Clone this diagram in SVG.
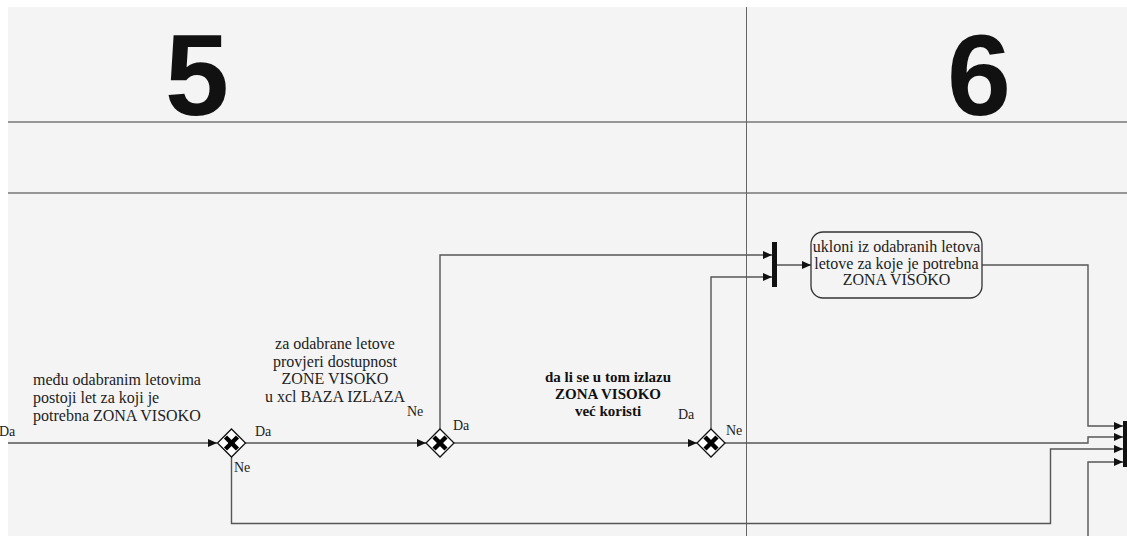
<svg xmlns="http://www.w3.org/2000/svg" width="1127" height="536" viewBox="0 0 1127 536">
<style>
.lane{stroke:#777;stroke-width:1.5;fill:none}
.vl{stroke:#666;stroke-width:1;fill:none}
.c{stroke:#555;stroke-width:1.4;fill:none}
.t{font-family:'Liberation Serif','Tinos','DejaVu Serif',serif;font-size:16px;fill:#222}
.tb{font-family:'Liberation Serif','Tinos','DejaVu Serif',serif;font-size:15px;font-weight:bold;fill:#111}
.lbl{font-family:'Liberation Serif','Tinos','DejaVu Serif',serif;font-size:14px;fill:#222}
.num{font-family:'Liberation Sans',Arial,sans-serif;font-size:115px;font-weight:bold;fill:#111}
.gw{fill:#fff;stroke:#111;stroke-width:1.3}
.gx{stroke:#000;stroke-width:4.5;stroke-linecap:butt}
.bar{fill:#111}
</style>
<defs>
<marker id="ah" viewBox="0 0 9 8" refX="9" refY="4" markerWidth="9" markerHeight="8" markerUnits="userSpaceOnUse" orient="auto">
<path d="M0,0 L9,4 L0,8 Z" fill="#111"/>
</marker>
<g id="gwshape">
<polygon class="gw" points="0,-14 14,0 0,14 -14,0"/>
<line class="gx" x1="-6" y1="-6" x2="6" y2="6"/>
<line class="gx" x1="6" y1="-6" x2="-6" y2="6"/>
</g>
</defs>
<rect x="0" y="0" width="1127" height="536" fill="#fff"/>
<rect x="8" y="7" width="1119" height="529" fill="#f4f4f4"/>
<g id="lanes">
<line class="lane" x1="8" y1="122" x2="1127" y2="122"/>
<line class="lane" x1="8" y1="193" x2="1127" y2="193"/>
<line class="vl" x1="746.5" y1="7" x2="746.5" y2="536"/>
<text class="num" x="197" y="115" text-anchor="middle">5</text>
<text class="num" x="979" y="115" text-anchor="middle">6</text>
</g>
<g id="connectors">
<path class="c" d="M8,443 H217" marker-end="url(#ah)"/>
<path class="c" d="M245,443 H426" marker-end="url(#ah)"/>
<path class="c" d="M231.5,457 V523.5 H1050.5 V449 H1123" marker-end="url(#ah)"/>
<path class="c" d="M440,429 V255 H772" marker-end="url(#ah)"/>
<path class="c" d="M454,443 H697" marker-end="url(#ah)"/>
<path class="c" d="M711,429 V277 H772" marker-end="url(#ah)"/>
<path class="c" d="M725,443 H1088 V437 H1123" marker-end="url(#ah)"/>
<path class="c" d="M777,265 H811" marker-end="url(#ah)"/>
<path class="c" d="M982,265 H1088 V426 H1123" marker-end="url(#ah)"/>
<path class="c" d="M1088,536 V462 H1123" marker-end="url(#ah)"/>
</g>
<g id="text1">
<text class="t" x="33" y="385">među odabranim letovima</text>
<text class="t" x="33" y="403">postoji let za koji je</text>
<text class="t" x="33" y="421">potrebna ZONA VISOKO</text>
</g>
<g id="text2">
<text class="t" x="335" y="349" text-anchor="middle">za odabrane letove</text>
<text class="t" x="335" y="366.5" text-anchor="middle">provjeri dostupnost</text>
<text class="t" x="335" y="384" text-anchor="middle">ZONE VISOKO</text>
<text class="t" x="335" y="401.5" text-anchor="middle">u xcl BAZA IZLAZA</text>
</g>
<g id="text3">
<text class="tb" x="608" y="382" text-anchor="middle">da li se u tom izlazu</text>
<text class="tb" x="608" y="399" text-anchor="middle">ZONA VISOKO</text>
<text class="tb" x="608" y="416" text-anchor="middle">već koristi</text>
</g>
<g id="gateway1">
<use href="#gwshape" x="231.5" y="443"/>
<text class="lbl" x="-1" y="436">Da</text>
<text class="lbl" x="255" y="436">Da</text>
<text class="lbl" x="234" y="472">Ne</text>
</g>
<g id="gateway2">
<use href="#gwshape" x="440" y="443"/>
<text class="lbl" x="407" y="416">Ne</text>
<text class="lbl" x="453" y="430">Da</text>
</g>
<g id="gateway3">
<use href="#gwshape" x="711" y="443"/>
<text class="lbl" x="678" y="419">Da</text>
<text class="lbl" x="726" y="435">Ne</text>
</g>
<g id="join1">
<rect class="bar" x="772" y="242" width="5" height="45"/>
</g>
<g id="task1">
<rect x="811" y="232" width="171" height="66" rx="12" ry="12" fill="#f4f4f4" stroke="#333" stroke-width="1.3"/>
<text class="t" x="896.5" y="252" text-anchor="middle">ukloni iz odabranih letova</text>
<text class="t" x="896.5" y="268.5" text-anchor="middle">letove za koje je potrebna</text>
<text class="t" x="896.5" y="285" text-anchor="middle">ZONA VISOKO</text>
</g>
<g id="join2">
<rect class="bar" x="1123" y="421" width="4" height="46"/>
</g>
</svg>
